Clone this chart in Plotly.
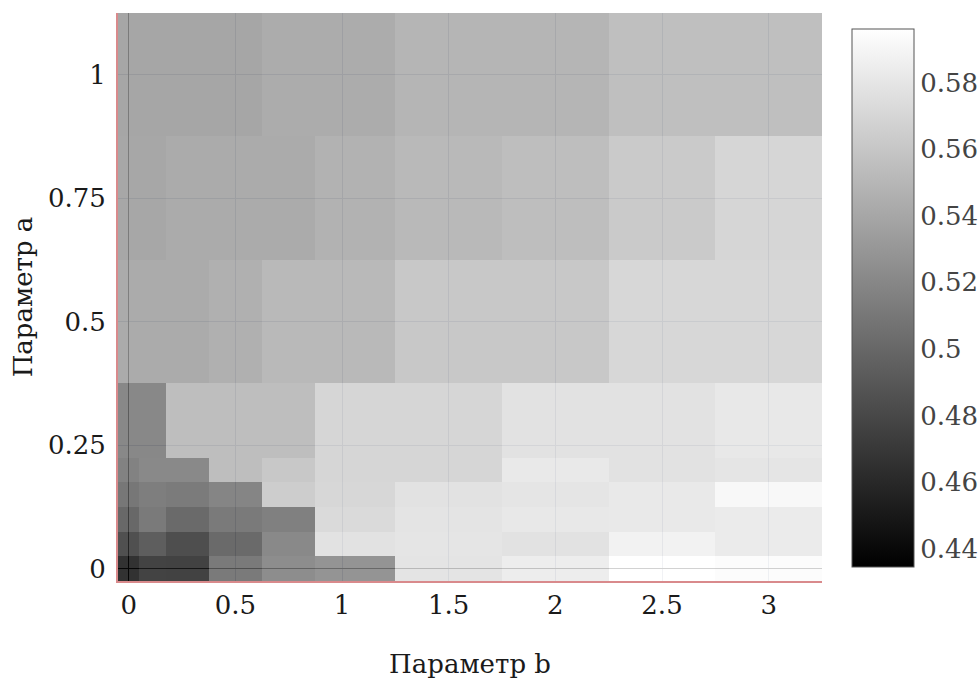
import plotly.graph_objects as go

# Parameter grid (cell centres) and measured values
param_b = [0, 0.1, 0.25, 0.5, 0.75, 1, 1.5, 2, 2.5, 3]
param_a = [0, 0.05, 0.1, 0.15, 0.2, 0.25, 0.5, 0.75, 1]

row_a000 = [0.4345, 0.448, 0.447, 0.491, 0.506, 0.512, 0.575, 0.582, 0.596, 0.594]
row_a005 = [0.458, 0.469, 0.456, 0.478, 0.503, 0.574, 0.576, 0.573, 0.586, 0.581]
row_a010 = [0.477, 0.491, 0.479, 0.491, 0.496, 0.567, 0.575, 0.578, 0.579, 0.581]
row_a015 = [0.489, 0.494, 0.492, 0.500, 0.557, 0.565, 0.573, 0.576, 0.579, 0.591]
row_a020 = [0.497, 0.503, 0.503, 0.545, 0.553, 0.564, 0.564, 0.579, 0.574, 0.576]
row_a025 = [0.502, 0.502, 0.545, 0.545, 0.545, 0.564, 0.564, 0.573, 0.573, 0.578]
row_a050 = [0.530, 0.530, 0.530, 0.534, 0.541, 0.541, 0.553, 0.553, 0.565, 0.565]
row_a075 = [0.527, 0.527, 0.530, 0.530, 0.530, 0.535, 0.541, 0.545, 0.555, 0.564]
row_a100 = [0.526, 0.526, 0.526, 0.526, 0.531, 0.531, 0.538, 0.538, 0.546, 0.546]

z = [row_a000, row_a005, row_a010, row_a015, row_a020,
     row_a025, row_a050, row_a075, row_a100]

FONT = "DejaVu Serif"

fig = go.Figure(
    go.Heatmap(
        x=param_b,
        y=param_a,
        z=z,
        colorscale=[[0, "rgb(0,0,0)"], [1, "rgb(255,255,255)"]],
        opacity=0.8,
        colorbar=dict(
            thickness=62,
            thicknessmode="pixels",
            len=538,
            lenmode="pixels",
            x=1.0426,
            xanchor="left",
            xpad=0,
            y=0.498,
            yanchor="middle",
            ypad=0,
            outlinewidth=1,
            outlinecolor="#555",
            dtick=0.02,
            tickfont=dict(family=FONT, size=26, color="#444"),
            ticks="",
        ),
    )
)

axis_common = dict(
    showline=True,
    linecolor="#d98a8c",
    linewidth=2,
    showgrid=True,
    gridcolor="rgb(185,192,208)",
    gridwidth=1,
    zeroline=True,
    zerolinecolor="#222",
    zerolinewidth=1,
    ticks="",
    automargin=False,
    tickfont=dict(family=FONT, size=26, color="#1a1a1a"),
    title_font=dict(family=FONT, size=26, color="#1a1a1a"),
)

fig.update_xaxes(
    **axis_common,
    tick0=0,
    dtick=0.5,
    title_text="Параметр b",
    ticklabelstandoff=0,
    title_standoff=40,
)
fig.update_yaxes(
    **axis_common,
    tick0=0,
    dtick=0.25,
    title_text="Параметр a",
    ticklabelstandoff=5,
    title_standoff=8,
)

fig.update_layout(
    width=979,
    height=679,
    margin=dict(l=118, r=157, t=13, b=98, autoexpand=False),
    plot_bgcolor="white",
    paper_bgcolor="white",
    font=dict(family=FONT),
)

fig.write_html("out.html")
